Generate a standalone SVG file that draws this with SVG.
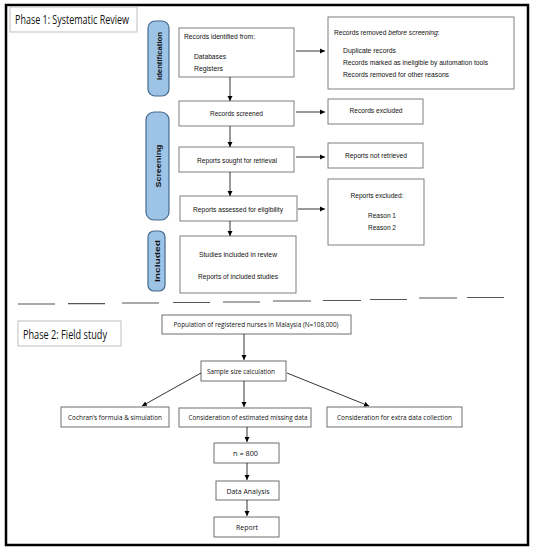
<svg xmlns="http://www.w3.org/2000/svg" width="533" height="550" viewBox="0 0 533 550">
<style>
.bg{fill:#ffffff}
.frame{fill:none;stroke:#000;stroke-width:2.5}
.lbl{fill:#fff;stroke:#bfbfbf;stroke-width:1}
.box{fill:#fff;stroke:#7f7f7f;stroke-width:1}
.box2{fill:#fff;stroke:#6f6f6f;stroke-width:1}
.pill{fill:#9dc3e6;stroke:#44698c;stroke-width:1.2}
.t{font-family:"Liberation Sans",Arial,sans-serif;font-size:8px;fill:#111}
.c{text-anchor:middle}
.p{font-family:"Liberation Sans",Arial,sans-serif;font-size:8px;font-weight:bold;fill:#111;text-anchor:middle}
.h{font-family:"Open Sans","Liberation Sans",sans-serif;font-size:13px;fill:#111}
.f{font-family:"Open Sans","Liberation Sans",sans-serif;font-size:8px;fill:#111;text-anchor:middle}
.ln{stroke:#000;stroke-width:0.8;fill:none;marker-end:url(#ah)}
.dash{stroke:#555;stroke-width:1.2}
</style>
<defs>
<marker id="ah" markerUnits="userSpaceOnUse" markerWidth="6" markerHeight="6" refX="5" refY="3" orient="auto">
<path d="M0,0.5 L5,3 L0,5.5 z" fill="#000"/>
</marker>
</defs>
<rect class="bg" x="0" y="0" width="533" height="550"/>
<rect class="frame" x="6" y="5" width="522" height="540"/>

<g id="phase1-label">
<rect class="lbl" x="10" y="7" width="127" height="25"/>
<text class="h" x="15" y="24" textLength="114" lengthAdjust="spacingAndGlyphs">Phase 1: Systematic Review</text>
</g>

<g id="pill-identification">
<rect class="pill" x="148" y="21" width="21" height="75" rx="7"/>
<text class="p" transform="translate(161.5,56) rotate(-90)" textLength="48" lengthAdjust="spacingAndGlyphs">Identification</text>
</g>
<g id="pill-screening">
<rect class="pill" x="146" y="112" width="23" height="108" rx="8"/>
<text class="p" transform="translate(160.5,166) rotate(-90)" textLength="43" lengthAdjust="spacingAndGlyphs">Screening</text>
</g>
<g id="pill-included">
<rect class="pill" x="148" y="231" width="17" height="60" rx="6"/>
<text class="p" transform="translate(159.5,261) rotate(-90)" textLength="42" lengthAdjust="spacingAndGlyphs">Included</text>
</g>

<g id="records-identified">
<rect class="box" x="179" y="28" width="115" height="49"/>
<text class="t" x="184" y="39" textLength="71" lengthAdjust="spacingAndGlyphs">Records identified from:</text>
<text class="t" x="194" y="59" textLength="32" lengthAdjust="spacingAndGlyphs">Databases</text>
<text class="t" x="194" y="71" textLength="29" lengthAdjust="spacingAndGlyphs">Registers</text>
</g>
<g id="records-screened">
<rect class="box" x="179" y="101" width="115" height="25"/>
<text class="t c" x="236.5" y="116" textLength="53" lengthAdjust="spacingAndGlyphs">Records screened</text>
</g>
<g id="reports-sought">
<rect class="box" x="179" y="147" width="115" height="25"/>
<text class="t c" x="237" y="163" textLength="80" lengthAdjust="spacingAndGlyphs">Reports sought for retrieval</text>
</g>
<g id="reports-assessed">
<rect class="box" x="180" y="196" width="117" height="25"/>
<text class="t c" x="238" y="212" textLength="90" lengthAdjust="spacingAndGlyphs">Reports assessed for eligibility</text>
</g>
<g id="studies-included">
<rect class="box" x="180" y="236" width="116" height="57"/>
<text class="t c" x="238" y="257" textLength="78" lengthAdjust="spacingAndGlyphs">Studies included in review</text>
<text class="t c" x="238" y="279" textLength="80" lengthAdjust="spacingAndGlyphs">Reports of included studies</text>
</g>

<g id="records-removed">
<rect class="box" x="328" y="17" width="186" height="72"/>
<text class="t" transform="translate(334,35) scale(0.83,1)">Records removed <tspan font-style="italic">before screening</tspan>:</text>
<text class="t" x="343" y="53" textLength="53" lengthAdjust="spacingAndGlyphs">Duplicate records</text>
<text class="t" x="343" y="65" textLength="145" lengthAdjust="spacingAndGlyphs">Records marked as ineligible by automation tools</text>
<text class="t" x="343" y="77" textLength="106" lengthAdjust="spacingAndGlyphs">Records removed for other reasons</text>
</g>
<g id="records-excluded">
<rect class="box" x="328" y="99" width="95" height="25"/>
<text class="t c" x="376" y="113" textLength="53" lengthAdjust="spacingAndGlyphs">Records excluded</text>
</g>
<g id="reports-not-retrieved">
<rect class="box" x="328" y="143" width="95" height="25"/>
<text class="t c" x="376" y="158" textLength="62" lengthAdjust="spacingAndGlyphs">Reports not retrieved</text>
</g>
<g id="reports-excluded">
<rect class="box" x="328" y="179" width="96" height="66"/>
<text class="t c" x="377" y="198" textLength="53" lengthAdjust="spacingAndGlyphs">Reports excluded:</text>
<text class="t c" x="382" y="218" textLength="28" lengthAdjust="spacingAndGlyphs">Reason 1</text>
<text class="t c" x="382" y="230" textLength="28" lengthAdjust="spacingAndGlyphs">Reason 2</text>
</g>

<g id="separator">
<line class="dash" x1="18" y1="304" x2="55" y2="304"/>
<line class="dash" x1="68" y1="303.6" x2="105" y2="303.6"/>
<line class="dash" x1="122" y1="303" x2="159" y2="303"/>
<line class="dash" x1="173" y1="302.5" x2="210" y2="302.5"/>
<line class="dash" x1="223" y1="302" x2="260" y2="302"/>
<line class="dash" x1="273" y1="301" x2="311" y2="301"/>
<line class="dash" x1="323" y1="300.5" x2="361" y2="300.5"/>
<line class="dash" x1="370" y1="299.5" x2="407" y2="299.5"/>
<line class="dash" x1="419" y1="298" x2="457" y2="298"/>
<line class="dash" x1="467" y1="297.5" x2="504" y2="297.5"/>
</g>

<g id="phase2-label">
<rect class="lbl" x="18" y="321" width="103" height="25"/>
<text class="h" x="23" y="339" textLength="84" lengthAdjust="spacingAndGlyphs">Phase 2: Field study</text>
</g>
<g id="population">
<rect class="box2" x="162" y="315" width="189" height="19"/>
<text class="f" x="256" y="327" textLength="165" lengthAdjust="spacingAndGlyphs">Population of registered nurses in Malaysia (N=108,000)</text>
</g>
<g id="sample-size">
<rect class="box2" x="201" y="361" width="85" height="20"/>
<text class="f" x="241" y="374" textLength="68" lengthAdjust="spacingAndGlyphs">Sample size calculation</text>
</g>
<g id="cochran">
<rect class="box2" x="61" y="407" width="108" height="20"/>
<text class="f" x="115" y="420" textLength="94" lengthAdjust="spacingAndGlyphs">Cochran’s formula &amp; simulation</text>
</g>
<g id="missing-data">
<rect class="box2" x="179" y="408" width="132" height="19"/>
<text class="f" x="248" y="420" textLength="119" lengthAdjust="spacingAndGlyphs">Consideration of estimated missing data</text>
</g>
<g id="extra-data">
<rect class="box2" x="327" y="407" width="135" height="20"/>
<text class="f" x="394.5" y="420" textLength="115" lengthAdjust="spacingAndGlyphs">Consideration for extra data collection</text>
</g>
<g id="n800">
<rect class="box2" x="214" y="443" width="65" height="20"/>
<text class="f" x="245.5" y="456" textLength="25" lengthAdjust="spacingAndGlyphs">n = 800</text>
</g>
<g id="data-analysis">
<rect class="box2" x="216" y="481" width="63" height="19"/>
<text class="f" x="248" y="494" textLength="43" lengthAdjust="spacingAndGlyphs">Data Analysis</text>
</g>
<g id="report">
<rect class="box2" x="214" y="517" width="65" height="20"/>
<text class="f" x="247" y="530" textLength="22" lengthAdjust="spacingAndGlyphs">Report</text>
</g>

<g id="connectors">
<line class="ln" x1="230" y1="77" x2="230" y2="101"/>
<line class="ln" x1="230" y1="126" x2="230" y2="147"/>
<line class="ln" x1="230" y1="172" x2="230" y2="196"/>
<line class="ln" x1="230" y1="221" x2="230" y2="236"/>
<line class="ln" x1="296" y1="51" x2="325" y2="51"/>
<line class="ln" x1="296" y1="112" x2="325" y2="112"/>
<line class="ln" x1="296" y1="157" x2="325" y2="157"/>
<line class="ln" x1="298" y1="209" x2="325" y2="209"/>
<line class="ln" x1="244" y1="334" x2="244" y2="360"/>
<line class="ln" x1="201" y1="373" x2="142" y2="406"/>
<line class="ln" x1="244" y1="381" x2="244" y2="407"/>
<line class="ln" x1="287" y1="373" x2="369" y2="406"/>
<line class="ln" x1="247" y1="427" x2="247" y2="442"/>
<line class="ln" x1="247" y1="463" x2="247" y2="480"/>
<line class="ln" x1="247" y1="500" x2="247" y2="516"/>
</g>
</svg>
